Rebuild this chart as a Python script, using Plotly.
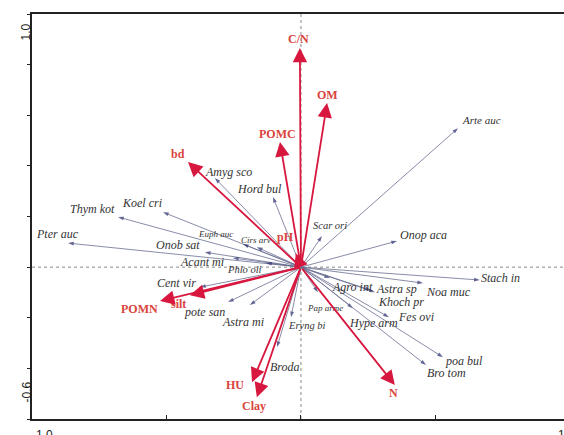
import plotly.graph_objects as go

# ---- Data (biplot scores) ----
env_names = ["C/N", "OM", "POMC", "bd", "pH", "silt", "POMN", "HU", "Clay", "N"]
env_x = [-0.004, 0.097, -0.078, -0.420, -0.019, -0.413, -0.524, -0.182, -0.164, 0.349]
env_y = [0.866, 0.648, 0.494, 0.415, 0.055, -0.111, -0.134, -0.455, -0.514, -0.466]

sp_names = ["Arte auc", "Amyg sco", "Hord bul", "Koel cri", "Thym kot", "Pter auc",
            "Euph auc", "Cirs arv", "Onob sat", "Acant mi", "Phlo oli", "Cent vir",
            "pote san", "Astra mi", "Broda", "Eryng bi", "Scar ori", "Onop aca",
            "Stach in", "Noa muc", "Agro int", "Astra sp", "Khoch pr", "Pap arme",
            "Hype arm", "Fes ovi", "poa bul", "Bro tom"]
sp_x = [0.584, -0.320, -0.104, -0.513, -0.680, -0.866,
        -0.216, -0.164, -0.357, -0.253, -0.130, -0.375,
        -0.271, -0.190, -0.089, -0.037, 0.078, 0.357,
        0.665, 0.454, 0.108, 0.275, 0.260, 0.063,
        0.193, 0.327, 0.528, 0.465]
sp_y = [0.549, 0.352, 0.277, 0.217, 0.198, 0.095,
        0.091, 0.079, 0.059, 0.036, 0.016, -0.079,
        -0.138, -0.150, -0.316, -0.198, 0.123, 0.103,
        -0.051, -0.063, -0.043, -0.099, -0.091, -0.099,
        -0.162, -0.198, -0.356, -0.387]

# ---- label offsets (pixels) and styles ----
env_off = [(-1, 9), (0, 8), (-2, 8), (-10, 8), (-10, 16), (-11, -9), (-21, -8),
           (-17, -3), (-3, -9), (-1, -8)]
sp_off = [(23, 8), (14, 6), (-13, 8), (-21, 9), (-26, 8), (-11, 9),
          (-27, 10), (-1, 7), (-27, 7), (-31, -4), (-21, -6), (-24, 4),
          (-24, -10), (-7, -17), (8, -20), (16, -8), (8, 10), (27, 6),
          (21, 2), (25, -9), (22, -9), (22, 3), (30, -12), (7, -16),
          (21, -15), (27, 0), (21, -4), (20, -8)]
small = {"Euph auc": 9, "Cirs arv": 9, "Pap arme": 9, "Phlo oli": 10.5, "Eryng bi": 10.5,
         "Scar ori": 10.5, "Arte auc": 11}

RED = "#d8173f"
RED_TXT = "#d9443c"
SP_LINE = "#6a6f92"
SP_HEAD = "#1f2466"
SP_TXT = "#333333"

fig = go.Figure()
fig.add_trace(go.Scatter(x=[-1.0, 0.97], y=[-0.6, 1.0], mode="markers",
                         marker=dict(opacity=0), hoverinfo="skip", showlegend=False))

ann = []
shapes = [
    dict(type="line", xref="x", yref="y", x0=0, x1=0, y0=-0.6, y1=1.0,
         line=dict(color="#888888", width=1, dash="dot"), layer="below"),
    dict(type="line", xref="x", yref="y", x0=-1.0, x1=1.0, y0=0, y1=0,
         line=dict(color="#888888", width=1, dash="dot"), layer="below"),
]

for n, x, y, (dx, dy) in zip(sp_names, sp_x, sp_y, sp_off):
    fig.add_trace(go.Scatter(
        x=[0, x], y=[0, y], mode="lines+markers",
        line=dict(color=SP_LINE, width=0.8),
        marker=dict(symbol="arrow", angleref="previous", size=[0, 6],
                    color=SP_HEAD, line=dict(width=0)),
        hoverinfo="skip", showlegend=False))
    ann.append(dict(x=x, y=y, xref="x", yref="y", text=n, showarrow=False,
                    xshift=dx, yshift=dy,
                    font=dict(family="Liberation Serif", size=small.get(n, 12),
                              color=SP_TXT, style="italic")))

for n, x, y, (dx, dy) in zip(env_names, env_x, env_y, env_off):
    ann.append(dict(x=x, y=y, ax=0, ay=0, xref="x", yref="y", axref="x", ayref="y",
                    text="", showarrow=True, arrowhead=2, arrowsize=1.6, arrowwidth=1.8,
                    arrowcolor=RED, standoff=0))
    ann.append(dict(x=x, y=y, xref="x", yref="y", text="<b>" + n + "</b>", showarrow=False,
                    xshift=dx, yshift=dy,
                    font=dict(family="Liberation Serif", size=12, color=RED_TXT)))


def px2paper_x(px):
    return (px - 32) / 532.0


def py2paper_y(py):
    return (419 - py) / 405.0


axis_font = dict(family="Liberation Sans", size=12, color="#222222")
ann.append(dict(x=px2paper_x(17), y=py2paper_y(22), xref="paper", yref="paper", text="1.0",
                textangle=-90, showarrow=False, font=axis_font))
ann.append(dict(x=px2paper_x(17), y=py2paper_y(405), xref="paper", yref="paper", text="-0.6",
                textangle=-90, showarrow=False, font=axis_font))
ann.append(dict(x=px2paper_x(42), y=py2paper_y(426), xref="paper", yref="paper", text="-1.0",
                xanchor="center", yanchor="top", showarrow=False, font=axis_font))
ann.append(dict(x=px2paper_x(556), y=py2paper_y(426), xref="paper", yref="paper", text="1.0",
                xanchor="left", yanchor="top", showarrow=False, font=axis_font))

fig.update_layout(
    width=564, height=435,
    margin=dict(l=32, r=0, t=14, b=16),
    paper_bgcolor="white", plot_bgcolor="white",
    annotations=ann, shapes=shapes, showlegend=False,
    xaxis=dict(range=[-1.0, 0.978], showgrid=False, zeroline=False,
               showline=True, mirror=True, linecolor="#222222", linewidth=1.5,
               ticks="inside", ticklen=4, tickcolor="#222222",
               tickvals=[-1.0, -0.5, 0, 0.5], showticklabels=False),
    yaxis=dict(range=[-0.6, 1.0], showgrid=False, zeroline=False,
               showline=True, mirror=False, linecolor="#222222", linewidth=1.5,
               ticks="outside", ticklen=3, tickcolor="#222222",
               tickvals=[-0.6, -0.4, -0.2, 0, 0.2, 0.4, 0.6, 0.8, 1.0],
               showticklabels=False),
)

fig.write_html("out.html", config={"displayModeBar": False},
               post_script="document.body.style.margin='0';document.body.style.padding='0';document.body.style.overflow='hidden';")
